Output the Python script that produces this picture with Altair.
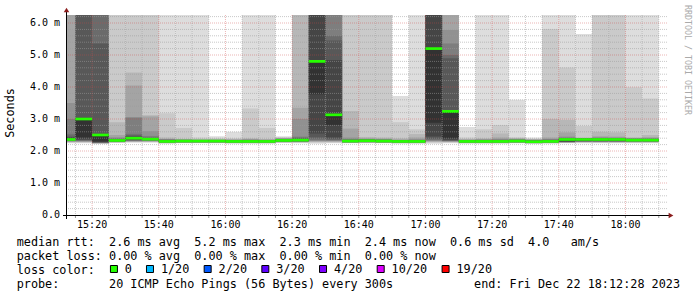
import altair as alt
import pandas as pd

# ---------------- data ----------------
window_start = "15:12:28"
window_end = "18:12:28"
slot_start = ["15:10", "15:15", "15:20", "15:25", "15:30", "15:35", "15:40", "15:45", "15:50",
              "15:55", "16:00", "16:05", "16:10", "16:15", "16:20", "16:25", "16:30", "16:35",
              "16:40", "16:45", "16:50", "16:55", "17:00", "17:05", "17:10", "17:15", "17:20",
              "17:25", "17:30", "17:35", "17:40", "17:45", "17:50", "17:55", "18:00", "18:05"]

median_ms = [2.36, 3.00, 2.50, 2.33, 2.40, 2.37, 2.30, 2.31, 2.31, 2.31, 2.30, 2.30, 2.30, 2.33, 2.34,
             4.80, 3.13, 2.31, 2.32, 2.31, 2.30, 2.30, 5.20, 3.24, 2.30, 2.30, 2.30, 2.31, 2.29, 2.30,
             2.36, 2.36, 2.36, 2.36, 2.34, 2.34]

# sorted ping rtts (ms), rank 1 (fastest) .. rank 20 (slowest) of each 5-minute round
ping01 = [2.24, 2.24, 2.22, 2.25, 2.26, 2.26, 2.23, 2.24, 2.24, 2.24, 2.23, 2.23, 2.23, 2.25, 2.24, 2.23, 2.24, 2.24,
          2.24, 2.24, 2.23, 2.23, 2.23, 2.24, 2.23, 2.23, 2.23, 2.24, 2.22, 2.23, 2.24, 2.24, 2.24, 2.24, 2.24, 2.24]
ping02 = [2.26, 2.26, 2.23, 2.26, 2.28, 2.28, 2.24, 2.25, 2.25, 2.25, 2.24, 2.24, 2.24, 2.26, 2.26, 2.26, 2.26, 2.25,
          2.25, 2.25, 2.24, 2.24, 2.26, 2.26, 2.24, 2.24, 2.24, 2.25, 2.23, 2.24, 2.25, 2.26, 2.26, 2.26, 2.26, 2.26]
ping03 = [2.28, 2.28, 2.24, 2.27, 2.29, 2.29, 2.25, 2.26, 2.26, 2.26, 2.25, 2.25, 2.25, 2.27, 2.27, 2.28, 2.28, 2.26,
          2.26, 2.26, 2.25, 2.25, 2.28, 2.28, 2.25, 2.25, 2.25, 2.26, 2.24, 2.25, 2.26, 2.27, 2.27, 2.27, 2.27, 2.27]
ping04 = [2.29, 2.29, 2.24, 2.28, 2.30, 2.30, 2.26, 2.26, 2.26, 2.26, 2.26, 2.26, 2.26, 2.28, 2.28, 2.30, 2.30, 2.26,
          2.27, 2.26, 2.26, 2.26, 2.30, 2.29, 2.26, 2.26, 2.26, 2.26, 2.25, 2.26, 2.27, 2.28, 2.28, 2.28, 2.28, 2.28]
ping05 = [2.30, 2.30, 2.25, 2.28, 2.31, 2.31, 2.26, 2.27, 2.27, 2.27, 2.26, 2.26, 2.26, 2.28, 2.28, 2.31, 2.31, 2.27,
          2.27, 2.27, 2.26, 2.26, 2.31, 2.30, 2.26, 2.26, 2.26, 2.27, 2.25, 2.26, 2.27, 2.28, 2.28, 2.28, 2.28, 2.28]
ping06 = [2.31, 2.31, 2.25, 2.29, 2.32, 2.32, 2.27, 2.27, 2.27, 2.27, 2.27, 2.27, 2.27, 2.29, 2.29, 2.33, 2.32, 2.27,
          2.28, 2.27, 2.27, 2.27, 2.33, 2.31, 2.27, 2.27, 2.27, 2.27, 2.26, 2.27, 2.28, 2.29, 2.29, 2.29, 2.29, 2.29]
ping07 = [2.32, 2.32, 2.26, 2.30, 2.33, 2.33, 2.27, 2.28, 2.28, 2.28, 2.27, 2.27, 2.27, 2.30, 2.30, 2.36, 2.34, 2.28,
          2.29, 2.28, 2.27, 2.27, 2.35, 2.32, 2.27, 2.27, 2.27, 2.28, 2.26, 2.27, 2.29, 2.30, 2.30, 2.30, 2.30, 2.30]
ping08 = [2.33, 2.34, 2.27, 2.30, 2.34, 2.34, 2.28, 2.28, 2.28, 2.28, 2.28, 2.28, 2.28, 2.30, 2.31, 2.42, 2.37, 2.28,
          2.29, 2.28, 2.28, 2.28, 2.38, 2.33, 2.28, 2.28, 2.28, 2.28, 2.27, 2.28, 2.29, 2.31, 2.31, 2.31, 2.31, 2.31]
ping09 = [2.34, 2.36, 2.28, 2.31, 2.36, 2.35, 2.28, 2.29, 2.29, 2.29, 2.28, 2.28, 2.28, 2.31, 2.32, 2.55, 2.42, 2.29,
          2.30, 2.29, 2.28, 2.28, 2.45, 2.35, 2.28, 2.28, 2.28, 2.29, 2.27, 2.28, 2.30, 2.32, 2.32, 2.32, 2.32, 2.32]
ping10 = [2.35, 2.42, 2.30, 2.32, 2.38, 2.36, 2.29, 2.30, 2.30, 2.30, 2.29, 2.29, 2.29, 2.32, 2.33, 3.77, 2.81, 2.30,
          2.31, 2.30, 2.29, 2.29, 2.88, 2.40, 2.29, 2.29, 2.29, 2.30, 2.28, 2.29, 2.31, 2.34, 2.34, 2.34, 2.33, 2.33]
ping11 = [2.37, 3.00, 2.50, 2.34, 2.41, 2.38, 2.31, 2.32, 2.32, 2.32, 2.31, 2.31, 2.31, 2.34, 2.35, 4.82, 3.15, 2.32,
          2.33, 2.32, 2.31, 2.31, 5.22, 3.25, 2.31, 2.31, 2.31, 2.32, 2.30, 2.31, 2.37, 2.37, 2.37, 2.37, 2.35, 2.35]
ping12 = [2.42, 3.04, 2.53, 2.36, 2.44, 2.39, 2.33, 2.33, 2.33, 2.33, 2.32, 2.32, 2.32, 2.35, 2.37, 7.00, 4.84, 2.33,
          2.34, 2.33, 2.32, 2.32, 7.00, 3.27, 2.32, 2.32, 2.32, 2.33, 2.31, 2.33, 2.38, 2.38, 2.38, 2.38, 2.36, 2.36]
ping13 = [2.45, 7.00, 5.36, 2.37, 2.48, 2.40, 2.34, 2.34, 2.33, 2.33, 2.33, 2.33, 2.33, 2.36, 2.39, 7.00, 5.45, 2.34,
          2.35, 2.34, 2.33, 2.33, 7.00, 4.90, 2.33, 2.33, 2.33, 2.34, 2.32, 2.34, 2.39, 2.39, 2.39, 2.39, 2.37, 2.37]
ping14 = [2.52, 7.00, 7.00, 2.38, 2.52, 2.42, 2.35, 2.34, 2.34, 2.34, 2.33, 2.34, 2.33, 2.37, 2.42, 7.00, 5.60, 2.36,
          2.36, 2.35, 2.33, 2.34, 7.00, 5.00, 2.33, 2.34, 2.34, 2.35, 2.33, 2.35, 2.40, 2.39, 2.40, 2.40, 2.38, 2.38]
ping15 = [3.00, 7.00, 7.00, 2.40, 3.04, 2.47, 2.36, 2.35, 2.34, 2.34, 2.34, 2.35, 2.34, 2.38, 2.45, 7.00, 7.00, 2.38,
          2.37, 2.36, 2.34, 2.35, 7.00, 5.36, 2.34, 2.35, 2.36, 2.36, 2.34, 2.36, 2.42, 2.40, 2.41, 2.41, 2.39, 2.39]
ping16 = [3.50, 7.00, 7.00, 2.43, 3.06, 2.62, 2.37, 2.36, 2.35, 2.35, 2.35, 2.36, 2.35, 2.39, 3.00, 7.00, 7.00, 2.42,
          2.38, 2.37, 2.35, 2.37, 7.00, 5.78, 2.35, 2.36, 2.38, 2.37, 2.35, 2.38, 2.45, 2.40, 2.43, 2.42, 2.40, 2.41]
ping17 = [7.00, 7.00, 7.00, 2.50, 4.05, 3.08, 2.38, 2.37, 2.36, 2.36, 2.36, 2.37, 2.36, 2.40, 3.35, 7.00, 7.00, 2.70,
          2.40, 2.39, 2.36, 2.42, 7.00, 7.00, 2.36, 2.37, 2.42, 2.39, 2.36, 2.42, 2.58, 2.41, 2.46, 2.45, 2.41, 2.43]
ping18 = [7.00, 7.00, 7.00, 2.90, 4.45, 3.12, 2.42, 2.38, 2.37, 2.37, 2.37, 2.40, 2.37, 2.41, 7.00, 7.00, 7.00, 3.25,
          2.44, 2.42, 2.40, 2.53, 7.00, 7.00, 2.37, 2.40, 2.55, 2.40, 2.37, 3.00, 2.97, 2.42, 2.60, 2.58, 2.42, 2.50]
ping19 = [7.00, 7.00, 7.00, 7.00, 7.00, 7.00, 3.18, 2.72, 2.42, 2.40, 2.40, 3.33, 2.72, 2.43, 7.00, 7.00, 7.00, 7.00,
          7.00, 7.00, 2.90, 2.68, 7.00, 7.00, 2.42, 2.68, 2.81, 2.43, 2.38, 5.81, 4.61, 2.78, 7.00, 7.00, 3.99, 3.64]
ping20 = [7.00, 7.00, 7.00, 7.00, 7.00, 7.00, 7.00, 7.00, 7.00, 2.46, 2.60, 7.00, 7.00, 2.46, 7.00, 7.00, 7.00, 7.00,
          7.00, 7.00, 3.72, 7.00, 7.00, 7.00, 2.75, 7.00, 7.00, 3.60, 2.42, 7.00, 7.00, 5.66, 7.00, 7.00, 7.00, 7.00]

# smoke shade of ping pair (1,20), (2,19), ... (10,11)
smoke_shades = ["#dddddd", "#cacaca", "#b7b7b7", "#a4a4a4", "#919191",
                "#7e7e7e", "#6b6b6b", "#585858", "#454545", "#323232"]

y_tick_values = [0, 1, 2, 3, 4, 5, 6]
y_tick_labels = ["0.0", "1.0 m", "2.0 m", "3.0 m", "4.0 m", "5.0 m", "6.0 m"]
x_tick_labels = ["15:20", "15:40", "16:00", "16:20", "16:40", "17:00", "17:20", "17:40", "18:00"]

loss_labels = ["0", "1/20", "2/20", "3/20", "4/20", "10/20", "19/20"]
loss_colors = ["#26ff00", "#00b8ff", "#0059ff", "#5e00ff", "#7e00ff", "#dd00ff", "#ff0000"]

line_rtt = "median rtt:  2.6 ms avg  5.2 ms max  2.3 ms min  2.4 ms now  0.6 ms sd  4.0   am/s"
line_loss = "packet loss: 0.00 % avg  0.00 % max  0.00 % min  0.00 % now"
line_color = "loss color:"
line_probe = "probe:       20 ICMP Echo Pings (56 Bytes) every 300s"
line_end = "end: Fri Dec 22 18:12:28 2023"
y_title = "Seconds"
watermark = "RRDTOOL / TOBI OETIKER"

# ---------------- helpers / layout ----------------
MONO = "DejaVu Sans Mono"
W, H = 600, 200
PADL, PADT = 67, 15


def to_min(s):
    parts = [int(p) for p in s.split(":")]
    sec = parts[2] if len(parts) > 2 else 0
    return (parts[0] - 15) * 60 + parts[1] + sec / 60.0


def nb(s):
    return s.replace(" ", "\u00a0")


x0, x1 = to_min(window_start), to_min(window_end)
xs = alt.Scale(domain=[x0, x1], nice=False, zero=False)
ys = alt.Scale(domain=[0, 6.25], nice=False, zero=False)

pings = [ping01, ping02, ping03, ping04, ping05, ping06, ping07, ping08, ping09, ping10,
         ping11, ping12, ping13, ping14, ping15, ping16, ping17, ping18, ping19, ping20]

rows = []
for i in range(10):
    lo, hi = pings[i], pings[19 - i]
    for k, s in enumerate(slot_start):
        t = to_min(s)
        rows.append(dict(t0=t, t1=t + 5, lo=lo[k], hi=hi[k], shade=smoke_shades[i], band=i))
smoke_df = pd.DataFrame(rows)

med_df = pd.DataFrame({
    "t0": [to_min(s) for s in slot_start],
    "t1": [to_min(s) + 5 for s in slot_start],
    "lo": [m - 0.042 for m in median_ms],
    "hi": [m + 0.042 for m in median_ms],
})

smoke = alt.Chart(smoke_df).mark_rect(clip=True, strokeWidth=0).encode(
    x=alt.X("t0:Q", scale=xs, axis=None),
    x2="t1",
    y=alt.Y("lo:Q", scale=ys, axis=None),
    y2="hi",
    color=alt.Color("shade:N", scale=None),
    order=alt.Order("band:Q"),
)

# grid
minor_y = [round(v * 0.2, 1) for v in range(1, 32) if v % 5]
major_y = [1, 2, 3, 4, 5, 6]
minor_x = [m for m in range(15, 191, 5) if m % 20]
major_x = list(range(20, 181, 20))

g_minor_y = alt.Chart(pd.DataFrame({"v": minor_y})).mark_rule(
    color="#9a9a9a", strokeWidth=1, strokeDash=[1, 1], opacity=0.55).encode(
    y=alt.Y("v:Q", scale=ys, axis=None))
g_minor_x = alt.Chart(pd.DataFrame({"v": minor_x})).mark_rule(
    color="#9a9a9a", strokeWidth=1, strokeDash=[1, 1], opacity=0.55).encode(
    x=alt.X("v:Q", scale=xs, axis=None))
g_major_y = alt.Chart(pd.DataFrame({"v": major_y})).mark_rule(
    color="#d04848", strokeWidth=1, strokeDash=[1, 1], opacity=0.4).encode(
    y=alt.Y("v:Q", scale=ys, axis=None))
g_major_x = alt.Chart(pd.DataFrame({"v": major_x})).mark_rule(
    color="#d04848", strokeWidth=1, strokeDash=[1, 1], opacity=0.4).encode(
    x=alt.X("v:Q", scale=xs, axis=None))

# small ticks under the time axis
tick_df = pd.DataFrame({"v": minor_x + major_x})
x_ticks = alt.Chart(tick_df).mark_rule(color="#999999", strokeWidth=1).encode(
    x=alt.X("v:Q", scale=xs, axis=None), y=alt.value(201), y2=alt.value(203))

median = alt.Chart(med_df).mark_rect(clip=True, strokeWidth=0, color=loss_colors[0]).encode(
    x=alt.X("t0:Q", scale=xs, axis=None), x2="t1",
    y=alt.Y("lo:Q", scale=ys, axis=None), y2="hi")

one = pd.DataFrame({"a": [0]})
axis_y_line = alt.Chart(one).mark_rule(color="black", strokeWidth=1).encode(
    x=alt.value(-0.5), x2=alt.value(-0.5), y=alt.value(-3), y2=alt.value(204))
axis_x_line = alt.Chart(one).mark_rule(color="black", strokeWidth=1).encode(
    x=alt.value(-4), x2=alt.value(603), y=alt.value(200.5), y2=alt.value(200.5))
arrow_up = alt.Chart(one).mark_point(shape="triangle-up", filled=True, size=30, color="#8a1c1c", opacity=1).encode(
    x=alt.value(-0.5), y=alt.value(-5))
arrow_right = alt.Chart(one).mark_point(shape="triangle-right", filled=True, size=30, color="#8a1c1c", opacity=1).encode(
    x=alt.value(604), y=alt.value(200.5))

# tick labels
ylab_df = pd.DataFrame({"v": y_tick_values, "t": [nb(s) for s in y_tick_labels]})
y_labels = alt.Chart(ylab_df).mark_text(
    font=MONO, fontSize=10, align="right", baseline="middle", color="black").encode(
    y=alt.Y("v:Q", scale=ys, axis=None), x=alt.value(60 - PADL), text="t:N")
xlab_df = pd.DataFrame({"v": [to_min(l) for l in x_tick_labels], "t": x_tick_labels})
x_labels = alt.Chart(xlab_df).mark_text(
    font=MONO, fontSize=10, align="center", baseline="middle", color="black").encode(
    x=alt.X("v:Q", scale=xs, axis=None), y=alt.value(225 - PADT), text="t:N")

# texts (positions relative to plot origin)
CW = 7.21
LX = 16.7 - PADL
text_df = pd.DataFrame({
    "t": [nb(line_rtt), nb(line_loss), nb(line_color), nb(line_probe)],
    "x": [LX, LX, LX, LX],
    "y": [241.5 - PADT, 255.5 - PADT, 269.5 - PADT, 283.5 - PADT],
})
legend_text = alt.Chart(text_df).mark_text(
    font=MONO, fontSize=11.8, align="left", baseline="middle", color="black").encode(
    x=alt.X("x:Q", scale=None), y=alt.Y("y:Q", scale=None), text="t:N")

end_text = alt.Chart(pd.DataFrame({"t": [nb(line_end)]})).mark_text(
    font=MONO, fontSize=11.8, align="right", baseline="middle", color="black").encode(
    x=alt.value(680 - PADL), y=alt.value(283.5 - PADT), text="t:N")

cur = 13
lx_sq, lx_lab = [], []
for lab in loss_labels:
    lx_sq.append(16.7 + cur * CW + 3.5 - PADL)
    lx_lab.append(16.7 + (cur + 2) * CW - PADL)
    cur += 2 + len(lab) + 2
loss_df = pd.DataFrame({"lab": loss_labels, "col": loss_colors, "xs": lx_sq, "xl": lx_lab,
                        "y": [269 - PADT] * len(loss_labels)})
loss_sq = alt.Chart(loss_df).mark_square(size=49, filled=True, stroke="black", strokeWidth=1, opacity=1).encode(
    x=alt.X("xs:Q", scale=None), y=alt.Y("y:Q", scale=None), fill=alt.Fill("col:N", scale=None))
loss_lab = alt.Chart(loss_df).mark_text(
    font=MONO, fontSize=11.8, align="left", baseline="middle", color="black").encode(
    x=alt.X("xl:Q", scale=None), y=alt.Y("y:Q", scale=None), text="lab:N")

title_text = alt.Chart(pd.DataFrame({"t": [y_title]})).mark_text(
    font=MONO, fontSize=11.8, angle=270, align="center", baseline="middle", color="black").encode(
    x=alt.value(9.5 - PADL), y=alt.value(113 - PADT), text="t:N")
wm_text = alt.Chart(pd.DataFrame({"t": [nb(watermark)]})).mark_text(
    font=MONO, fontSize=8.3, angle=90, align="center", baseline="middle", color="#aaaaaa").encode(
    x=alt.value(687 - PADL), y=alt.value(60 - PADT), text="t:N")

chart = alt.layer(
    smoke, g_minor_y, g_minor_x, g_major_y, g_major_x, x_ticks, median,
    axis_y_line, axis_x_line, arrow_up, arrow_right, y_labels, x_labels,
    legend_text, end_text, loss_sq, loss_lab, title_text, wm_text,
).properties(
    width=W, height=H,
    autosize=alt.AutoSizeParams(type="none"),
    padding={"left": PADL, "top": PADT, "right": 697 - PADL - W, "bottom": 297 - PADT - H},
    background="white",
).configure_view(stroke=None)

chart.save("out.html", embed_options={"renderer": "svg", "actions": False})
